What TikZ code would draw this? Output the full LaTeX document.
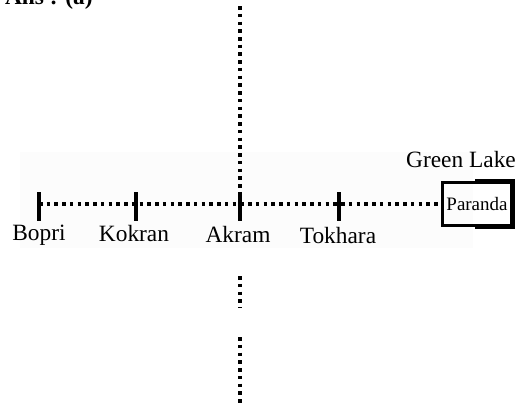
\documentclass[tikz,border=0pt]{standalone}
\usepackage{fontspec}
\setmainfont{Liberation Serif}
\tikzset{
  dotline/.style={line width=0.075cm, dash pattern=on 0.07cm off 0.085cm},
  tickmark/.style={line width=0.075cm},
  lbl/.style={font=\fontsize{13.3}{15}\selectfont, inner sep=0pt},
}
\begin{document}
\begin{tikzpicture}[x=0.02cm,y=-0.02cm]
\useasboundingbox (0,0) rectangle (527,403);
\clip (0,0) rectangle (527,403);
\fill[gray!2] (20,152) rectangle (473,248);
% title (cut at top)
\node[lbl, font=\fontsize{13.3}{15}\selectfont\bfseries, anchor=base east] (ans) at (93,4) {Ans : (a)};
% tick coordinates
\coordinate (b1) at (39,192); \coordinate (b2) at (39,221);
\coordinate (k1) at (136,192); \coordinate (k2) at (136,221);
\coordinate (a1) at (240,192); \coordinate (a2) at (240,221);
\coordinate (t1) at (339,192); \coordinate (t2) at (339,221);
\coordinate (b) at (39,204);
\coordinate (top) at (240,6);
\coordinate (acen) at (240,204);
% Paranda box
\node[draw, line width=1.3pt, inner sep=0pt,
      font=\fontsize{10.8}{12}\selectfont, minimum width=1.38cm, minimum height=0.86cm] (par) at (477,204) {Paranda};
\draw[line width=2.4pt] ([xshift=-1pt]par.north) -- (par.north east) -- (par.south east) -- ([xshift=-1pt]par.south);
\node[lbl, anchor=base] (green) at (461,167) {Green Lake};
% horizontal dotted connector
\draw[dotline] (b) -- (par.west);
% ticks
\draw[tickmark] (b1) -- (b2);
\draw[tickmark] (k1) -- (k2);
\draw[tickmark] (a1) -- (a2);
\draw[tickmark] (t1) -- (t2);
% vertical dotted line
\draw[dotline] (top) -- (acen);
\coordinate (s1) at (240,276); \coordinate (s2) at (240,308);
\coordinate (s3) at (240,337); \coordinate (s4) at (240,405);
\draw[dotline] (s1) -- (s2);
\draw[dotline] (s3) -- (s4);
% labels
\node[lbl, anchor=base] (bopri) at (39,240) {Bopri};
\node[lbl, anchor=base] (kokran) at (134,241) {Kokran};
\node[lbl, anchor=base] (akram) at (238,242) {Akram};
\node[lbl, anchor=base] (tokhara) at (338,243) {Tokhara};
\end{tikzpicture}
\end{document}
